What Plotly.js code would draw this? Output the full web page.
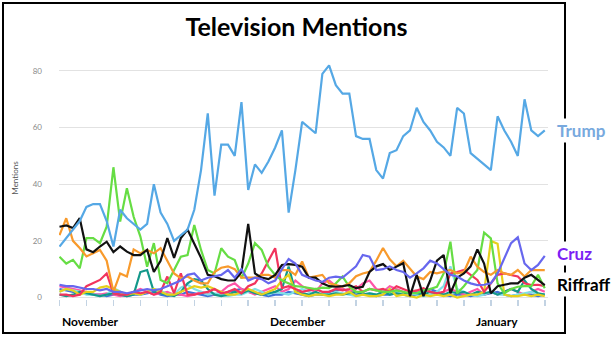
<!DOCTYPE html>
<html><head><meta charset="utf-8">
<script src="https://cdn.plot.ly/plotly-3.0.1.min.js"></script>
<style>
html,body{margin:0;padding:0;background:#fff;}
#wrap{position:relative;width:615px;height:337px;overflow:hidden;}
#frame{position:absolute;left:2px;top:2px;width:564px;height:332px;border:2px solid #000;box-sizing:border-box;}
#chart{position:absolute;left:0;top:0;width:615px;height:337px;}
</style></head>
<body><div id="wrap"><div id="frame"></div><div id="chart"></div></div>
<script>
// Days from Nov 1 (index 0) to Jan 12 (index 72)
const days = Array.from({length: 73}, (_, i) => i);

const trump = [18,21,24,27,32,33,33,27,18,31, 28,26,24,26,40,30,26,20,22,24,
  31,45,65,36,54,54,50,69,38,47, 44,48,53,59,30,45,62,60,58,79,
  82,75,72,72,57,56,56,45,42,51, 52,57,59,67,62,59,55,53,50,67,
  65,51,49,47,45,64,59,55,50,70, 59,57,59];
const cruz = [4.5,4,4,3.5,3,3,2.5,3,2,2, 1.5,2,2.5,3,2.5,3,4,5,6,8,
  8.5,6,7,7.5,8,9.7,7,10,6,7, 6.5,5,6,10,13.6,12,8,7,6,5.5,
  7,7.4,7,9,11,15,14.4,9.7,10,11, 9.7,9,7,8.5,10.3,13,12,10,8,7.4,
  6,5,4.4,4.5,5,8.5,14,19.2,21.3,12, 9.7,11.5,14.7];
const riffBlack = [25,25.5,24.5,28,17,16,18,19.7,16,18, 16.2,15,15,16.8,9,13,21,14,21,24,
  19,14,8,7.5,6.5,6,6,9,26,8.5, 7,6.5,8,11.5,11.8,11.5,10.9,7,7,5,
  4,3.8,4,4.4,3.3,3.8,9,11,11.8,9.7, 10.9,12.1,0.5,8,0.5,6,13,15,1.5,7,
  8.5,11,17,12,1.5,4,4.5,5,5,7, 8,6.2,4.4];
const riffOrange = [22,28,20,17.5,14.5,15.6,16.8,13,2,8.5, 7.4,17,15.6,16.8,15.6,17.4,13,8.5,6.8,7.4,
  6,5,5,9,10.5,11,10,7,7,7, 8,8,7,9.7,9.7,8,12.7,7,7.5,8,
  5,4.5,3.8,5,7.5,8.5,9.1,13,17.5,13.5, 11,13,10,7.4,6.5,9,8.5,9,9.7,8.5,
  9,14.4,10.9,9,8,9.7,8.5,8,9.7,7.4, 9.7,9.7,9.7];
const riffGreen = [14.4,12,13.3,10.3,21,21,19.2,25,46,26.8, 38.6,28.5,21.5,10.9,19.2,6.2,5,10,14.4,15,
  25.6,16.8,9.7,8.5,17.4,14.4,13.2,6.8,12,19.2, 16.8,10.9,8,6,5,4,3.8,3.5,3,3.5,
  3.3,5,7.4,3.8,2,2,3,2.5,2,2, 2.5,2,1.5,1.5,2.5,3,3.8,8.5,19.7,1.5,
  4,7,9.7,22.9,20.9,5,1.5,3,3.8,4, 4,8,3.3];
const riffRed = [1,1,0.5,1,4,5,6.2,8.5,1.5,1, 1,2,1.5,2,1,2,7.4,1.5,8.5,1,
  1,1.5,2,3,1.5,2,3,1.5,4,5, 8.5,13,17.4,3.3,4,3,2,2.5,3,2,
  2,3,2.5,3,4,2,3,2.5,3,2, 4,3,2,2.5,3.3,2,1.5,2,8.5,9,
  9.7,8,6.2,2,5,8,8.5,8,7.4,5, 4.4,4.5,4];
const riffYellow = [2,3,2.5,1,2,2,3.5,4,3,2, 1,1.5,1,2,3,2,1,1,2,3,
  4,3.5,4,3,2,1,1,2,3,2, 1,2,3,6,8,2,1,0.5,1,1,
  0.5,1,1,2,0.5,1,0.5,0.5,1,3, 0.5,1,0.5,0,1,0.5,1,0.5,1,0,
  0.5,1,1,2,20,19,1,0.5,0.5,1, 0.5,1,0.5];
const riffTeal = [1,0.5,1,2,1.5,1,0.5,1,1.5,1, 0.5,1,9,9.7,2,1.5,1,0.5,2,5,
  6.5,6,3,1,0.5,1,2,1.5,2.5,1.5, 1,1.5,2,3,10.9,2,1.5,1,2,1,
  1,1.5,1,1.5,2,1,1.5,1,2,1, 1.5,1,2,1.5,1,2,1.5,1,2,1.5,
  2,1,2,1.5,2,1,2,3,2,6, 3,1.5,1];
const riffCyan = [2,3,2.5,2,1,1,0.5,1,3.3,2, 1,1.5,1,2,3,2.5,1,1,3.5,4.5,
  3,2,1,1.5,1,0.5,1,1,2,3, 2,1,2,1.5,1,2,3,2,1,1.5,
  1,2,1.5,1,0.5,1,1.5,1,2,3, 2,1,1.5,1,0.5,1,2,4,11,3,
  2,1,0.5,1,2,1,1,0.5,1,1.5, 2,1,1];
const riffPink = [4,3.5,3,2.5,2,1,1,1.5,1,0.5, 1,2,3,2,1,1.5,2,1,1,0.5,
  1,2,1.5,1,2,4,5,3,2,1, 2,3,4,2,3,6,4,3,2,5,
  6,4,3,2,3,5,6,3,2,4, 3,2,1,2,3,2,1,2,3,2,
  1,2,3,1,2,1,2,3,2,1, 2,3,2];
const riffBlue = [3,2.5,2,2,1.5,1,1,0.5,1,1, 0.5,1,1,1.5,2,1,0.5,1,1,2,
  1.5,1,0.5,1,1,2,2.5,3,2,1.5, 1,0.5,1,1,2,1.5,1,0.5,1,1,
  2,2.5,3,2,1,1.5,1,0.5,1,1, 1.5,1,0.5,1,2,3,2,1,0.5,1,
  1,0.5,1,1,1.5,2,1,0.5,1,1, 1,0.5,1];

const monthLabels = ['November', 'December', 'January'];
const monthPos = [0, 31, 61.5];
const yTicks = [0, 20, 40, 60, 80];
const seriesLabels = ['Trump', 'Cruz', 'Riffraff'];

const series = [
  {y: riffBlue, c: '#3f72d9'},
  {y: riffPink, c: '#ff55a8'},
  {y: riffCyan, c: '#7fe0e6'},
  {y: riffTeal, c: '#13988a'},
  {y: riffYellow, c: '#e6d01c'},
  {y: riffRed, c: '#f1345d'},
  {y: riffGreen, c: '#66dd44'},
  {y: riffOrange, c: '#f89a2c'},
  {y: riffBlack, c: '#111111'},
  {y: cruz, c: '#6767ee'},
  {y: trump, c: '#55a8e5'}
];

const traces = series.map(s => ({
  x: days, y: s.y, type: 'scatter', mode: 'lines',
  line: {color: s.c, width: 2.2}, hoverinfo: 'skip'
}));

const L = 59, R = 67, T = 57, B = 38;
const plotH = 337 - T - B;
const py = pix => (337 - B - pix) / plotH;
const font = 'Lato, "Open Sans", sans-serif';

const annotations = monthLabels.map((m, k) => ({
  text: m, x: monthPos[k], xref: 'x', xanchor: 'left',
  y: py(321.5), yref: 'paper', yanchor: 'middle', showarrow: false,
  font: {family: font, size: 12, color: '#000', weight: 'bold'}
}));
const labColors = ['#78a9de', '#7c1ff4', '#000000'];
const labY = [130.5, 253.5, 284];
seriesLabels.forEach((t, k) => annotations.push({
  text: '<b>' + t + '</b>', x: (555 - L) / (615 - L - R), xref: 'paper', xanchor: 'left',
  y: py(labY[k]), yref: 'paper', yanchor: 'middle', showarrow: false,
  bgcolor: '#ffffff', borderpad: 1,
  font: {family: font, size: 17, color: labColors[k]}
}));

const layout = {
  width: 615, height: 337,
  margin: {l: L, r: R, t: T, b: B, pad: 0},
  paper_bgcolor: 'rgba(0,0,0,0)', plot_bgcolor: 'rgba(0,0,0,0)',
  showlegend: false,
  title: {text: '<b>Television Mentions</b>', x: 296.5 / 615, xanchor: 'center',
    y: 1 - 27.5 / 337, yanchor: 'middle', font: {family: font, size: 25, color: '#000'}},
  xaxis: {range: [-0.074, 72.48], tick0: 0, dtick: 4, ticks: 'outside', ticklen: 6,
    tickcolor: '#c3d3e3', tickwidth: 1.5, showticklabels: false, showgrid: false,
    zeroline: false, showline: false, fixedrange: true},
  yaxis: {range: [-0.53, 84.94], tickvals: yTicks, ticks: '', showline: false, zeroline: false,
    gridcolor: '#e2e2e2', gridwidth: 1, ticklabelstandoff: 16,
    tickfont: {family: font, size: 8, color: '#8a8a8a'},
    title: {text: 'Mentions', standoff: 12, font: {family: font, size: 8, color: '#555'}},
    fixedrange: true},
  annotations: annotations
};

Plotly.newPlot('chart', traces, layout, {displayModeBar: false, staticPlot: true});
</script></body></html>
